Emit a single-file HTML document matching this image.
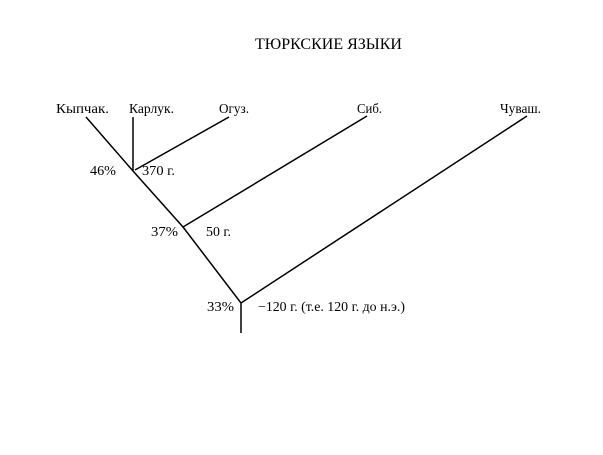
<!DOCTYPE html>
<html><head><meta charset="utf-8"><style>
html,body{margin:0;padding:0;background:#fff;width:603px;height:455px;overflow:hidden}
svg text{font-family:"Liberation Serif",serif;fill:#000}
</style></head><body>
<svg width="603" height="455" viewBox="0 0 603 455" xmlns="http://www.w3.org/2000/svg">
<text x="255" y="49" font-size="16" textLength="147" lengthAdjust="spacingAndGlyphs">ТЮРКСКИЕ ЯЗЫКИ</text>
<g font-size="13.5">
<text x="56" y="113" textLength="53" lengthAdjust="spacingAndGlyphs">Кыпчак.</text>
<text x="129" y="113" textLength="45" lengthAdjust="spacingAndGlyphs">Карлук.</text>
<text x="219" y="113" textLength="30" lengthAdjust="spacingAndGlyphs">Огуз.</text>
<text x="357" y="113" textLength="25" lengthAdjust="spacingAndGlyphs">Сиб.</text>
<text x="500" y="113" textLength="41" lengthAdjust="spacingAndGlyphs">Чуваш.</text>
<text x="90" y="175" textLength="26" lengthAdjust="spacingAndGlyphs">46%</text>
<text x="142" y="175" textLength="33" lengthAdjust="spacingAndGlyphs">370 г.</text>
<text x="151" y="236" textLength="27" lengthAdjust="spacingAndGlyphs">37%</text>
<text x="206" y="236" textLength="25" lengthAdjust="spacingAndGlyphs">50 г.</text>
<text x="207" y="311" textLength="27" lengthAdjust="spacingAndGlyphs">33%</text>
<text x="258" y="311" textLength="147" lengthAdjust="spacingAndGlyphs">−120 г. (т.е. 120 г. до н.э.)</text>
</g>
<g stroke="#000" stroke-width="1.5" fill="none">
<polyline points="86,117 133,171 183,227 241,303 241,333"/>
<line x1="133" y1="117" x2="133" y2="171"/>
<line x1="229" y1="117" x2="135" y2="170"/>
<line x1="367" y1="116" x2="183" y2="227"/>
<line x1="527" y1="116" x2="241" y2="303"/>
</g>
</svg>
</body></html>
